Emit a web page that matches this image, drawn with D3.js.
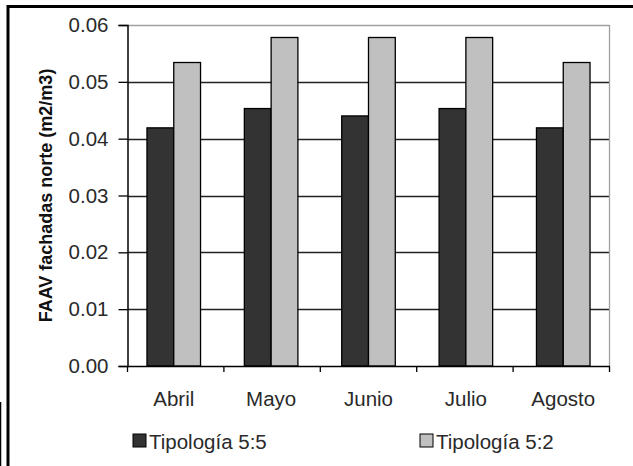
<!DOCTYPE html>
<html><head><meta charset="utf-8">
<script src="https://cdn.jsdelivr.net/npm/d3@7"></script>
<style>body{margin:0;background:#fff}svg{display:block}</style>
</head><body>
<script>
const categories = ["Abril","Mayo","Junio","Julio","Agosto"];
const seriesNames = ["Tipología 5:5","Tipología 5:2"];
const tip55 = [0.0419,0.0453,0.0440,0.0453,0.0419];
const tip52 = [0.0534,0.0578,0.0578,0.0578,0.0534];
const yTicks = [0,0.01,0.02,0.03,0.04,0.05,0.06];
const colors = ["#333333","#c0c0c0"];

const W=633,H=466;
const svg=d3.select("body").append("svg").attr("width",W).attr("height",H);
const font="'Liberation Sans', Arial, sans-serif";

// outer frame
svg.append("line").attr("x1",7).attr("x2",W).attr("y1",6.5).attr("y2",6.5).attr("stroke","#000").attr("stroke-width",3);
svg.append("line").attr("x1",8).attr("x2",8).attr("y1",5).attr("y2",H).attr("stroke","#000").attr("stroke-width",3);
svg.append("line").attr("x1",0.5).attr("x2",0.5).attr("y1",402).attr("y2",H).attr("stroke","#000").attr("stroke-width",1.5);

const L=127.5,R=609.5,T=25,B=366;
const y=d3.scaleLinear().domain([0,0.06]).range([B,T]);
const x0=d3.scaleBand().domain(categories).range([L,R]).paddingInner(0.45).paddingOuter(0.2);
const x1=d3.scaleBand().domain(seriesNames).range([0,x0.bandwidth()]);

// gridlines
svg.append("g").selectAll("line").data(yTicks.filter(d=>d>0)).join("line")
  .attr("x1",L).attr("x2",R).attr("y1",d=>Math.round(y(d))+0.5).attr("y2",d=>Math.round(y(d))+0.5)
  .attr("stroke",d=>d===0.06?"#a0a0a0":"#222").attr("stroke-width",1.3);
// right border
svg.append("line").attr("x1",R).attr("x2",R).attr("y1",T).attr("y2",B).attr("stroke","#a0a0a0").attr("stroke-width",1.3);

// bars
const data=[tip55,tip52];
const g=svg.append("g");
categories.forEach((c,i)=>{
  data.forEach((s,j)=>{
    g.append("rect").attr("x",x0(c)+x1(seriesNames[j])).attr("width",x1.bandwidth())
      .attr("y",y(s[i])).attr("height",B-y(s[i]))
      .attr("fill",colors[j]).attr("stroke","#000").attr("stroke-width",1.3);
  });
});

// y axis
const ya=svg.append("g").attr("transform",`translate(${L},0)`)
  .call(d3.axisLeft(y).tickValues(yTicks).tickFormat(d3.format(".2f")).tickSize(9).tickPadding(10));
ya.select(".domain").attr("stroke","#000").attr("stroke-width",1.5);
ya.selectAll(".tick line").attr("stroke","#000").attr("stroke-width",1.3);
ya.selectAll("text").attr("font-family",font).attr("font-size",20.5).attr("fill","#2a2a2a");

// x axis
const xa=svg.append("g").attr("transform",`translate(0,${B})`)
  .call(d3.axisBottom(x0).tickSize(0).tickPadding(25));
xa.select(".domain").attr("stroke","#000").attr("stroke-width",1.5);
xa.selectAll("text").attr("font-family",font).attr("font-size",20.5).attr("fill","#2a2a2a");
// category separator ticks
const step=(R-L)/categories.length;
svg.append("g").selectAll("line").data(d3.range(categories.length+1)).join("line")
  .attr("x1",d=>L+d*step).attr("x2",d=>L+d*step).attr("y1",B).attr("y2",B+6)
  .attr("stroke","#000").attr("stroke-width",1.3);

// y title
svg.append("text").attr("transform",`translate(52,${(T+B)/2}) rotate(-90)`)
  .attr("text-anchor","middle").attr("font-family",font).attr("font-weight","bold").attr("font-size",18)
  .attr("fill","#111").text("FAAV fachadas norte (m2/m3)");

// legend
const legX=[133,420];
seriesNames.forEach((n,j)=>{
  svg.append("rect").attr("x",legX[j]).attr("y",434).attr("width",13).attr("height",13)
    .attr("fill",colors[j]).attr("stroke","#000").attr("stroke-width",1);
  svg.append("text").attr("x",legX[j]+16).attr("y",449).attr("font-family",font).attr("font-size",20.5)
    .attr("fill","#2a2a2a").text(n);
});
</script>
</body></html>
